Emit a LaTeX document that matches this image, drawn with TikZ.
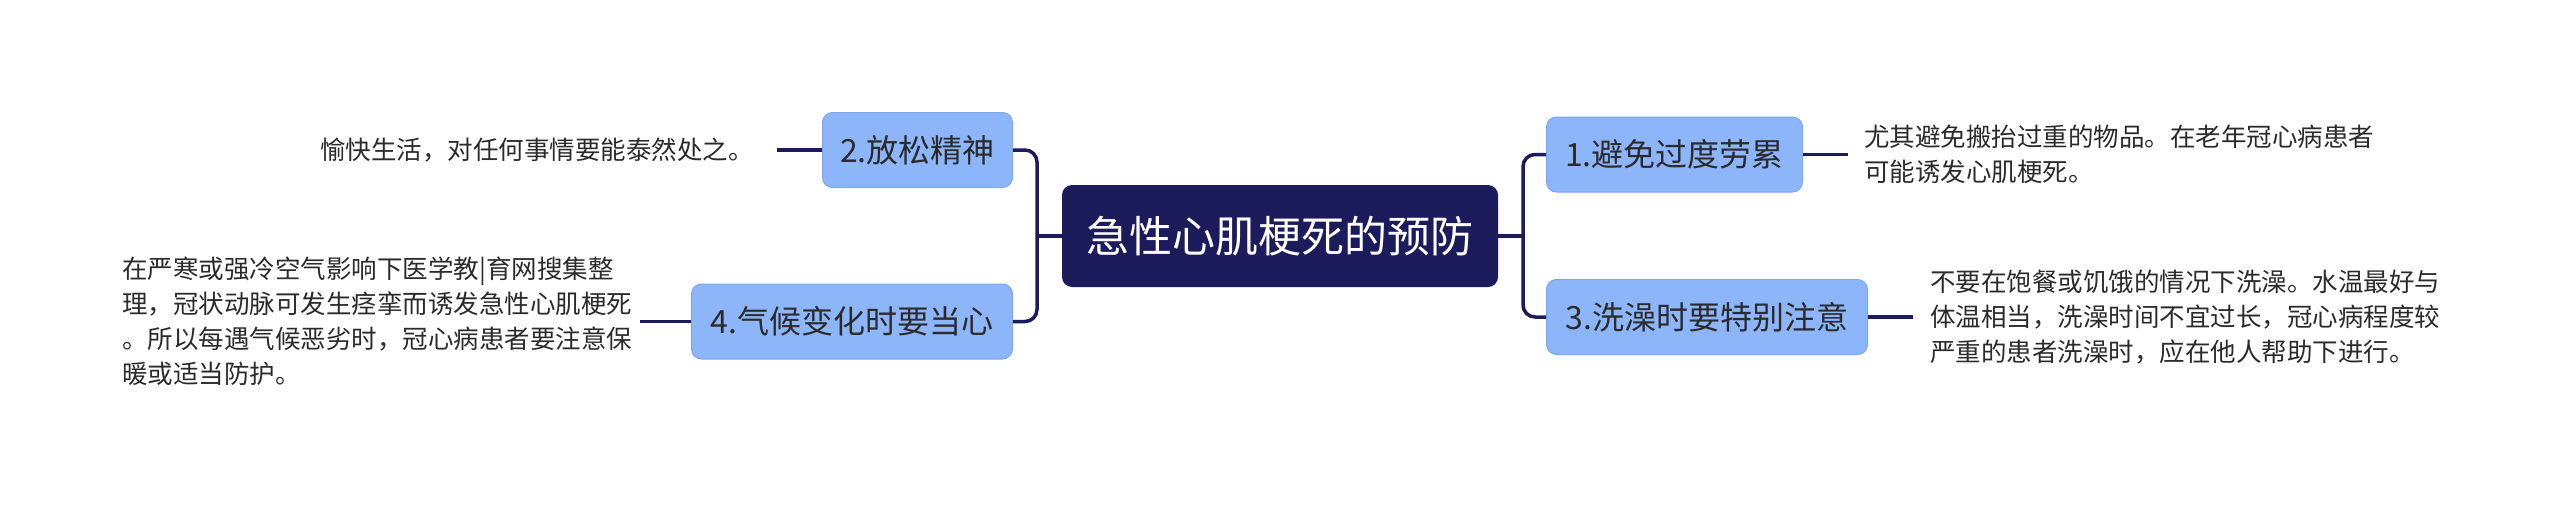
\documentclass[tikz,border=0pt]{standalone}
\usepackage{fontspec}
\setmainfont{Noto Sans CJK SC}
\definecolor{navy}{HTML}{1C1B5C}
\definecolor{nodeblue}{HTML}{8DB5FA}
\definecolor{nodeedge}{HTML}{7DA6F0}
\definecolor{txt}{HTML}{2B2B2B}
\begin{document}
\begin{tikzpicture}[x=1pt,y=-1pt,
  root/.style={fill=navy, rounded corners=10pt, minimum height=102pt, minimum width=436pt, text=white, font=\fontsize{43pt}{50pt}\selectfont, inner sep=0pt},
  branch/.style={fill=nodeblue, draw=nodeedge, line width=1pt, rounded corners=10pt, minimum height=75pt, text=txt, font=\fontsize{32pt}{38pt}\selectfont, inner sep=0pt},
  leaf/.style={text=txt, font=\fontsize{25.5pt}{35pt}\selectfont, align=left, inner sep=0pt},
  link/.style={draw=navy, line width=3.5pt, rounded corners=12pt}
]
\useasboundingbox (0,0) rectangle (2560,509);
\node[root] (c) at (1280,236) {急性心肌梗死的预防};
\node[branch, minimum width=256pt, anchor=west] (n1) at (1546,154.5) {1.避免过度劳累};
\node[branch, minimum width=321pt, anchor=west] (n3) at (1546,317) {3.洗澡时要特别注意};
\node[branch, minimum width=190pt, anchor=east] (n2) at (1013,150) {2.放松精神};
\node[branch, minimum width=321pt, anchor=east] (n4) at (1013,321.5) {4.气候变化时要当心};
\node[leaf, anchor=west] (t1) at (1864,154.5) {尤其避免搬抬过重的物品。在老年冠心病患者\\可能诱发心肌梗死。};
\node[leaf, anchor=west] (t3) at (1930,317) {不要在饱餐或饥饿的情况下洗澡。水温最好与\\体温相当，洗澡时间不宜过长，冠心病程度较\\严重的患者洗澡时，应在他人帮助下进行。};
\node[leaf, anchor=east] (t2) at (754,150) {愉快生活，对任何事情要能泰然处之。};
\node[leaf, anchor=west] (t4) at (122,321.5) {在严寒或强冷空气影响下医学教|育网搜集整\\理，冠状动脉可发生痉挛而诱发急性心肌梗死\\。所以每遇气候恶劣时，冠心病患者要注意保\\暖或适当防护。};
\coordinate (jr) at (1523,236);
\coordinate (jl) at (1037,236);
\draw[link] (c.east) -- (jr);
\draw[link] (jr) |- (n1.west);
\draw[link] (jr) |- (n3.west);
\draw[link] (c.west) -- (jl);
\draw[link] (jl) |- (n2.east);
\draw[link] (jl) |- (n4.east);
\draw[link, shorten >=16pt] (n1.east) -- (t1.west);
\draw[link, shorten >=17pt] (n3.east) -- (t3.west);
\draw[link, shorten >=23pt] (n2.west) -- (t2.east);
\draw[link, shorten >=8pt] (n4.west) -- (t4.east);
\end{tikzpicture}
\end{document}
